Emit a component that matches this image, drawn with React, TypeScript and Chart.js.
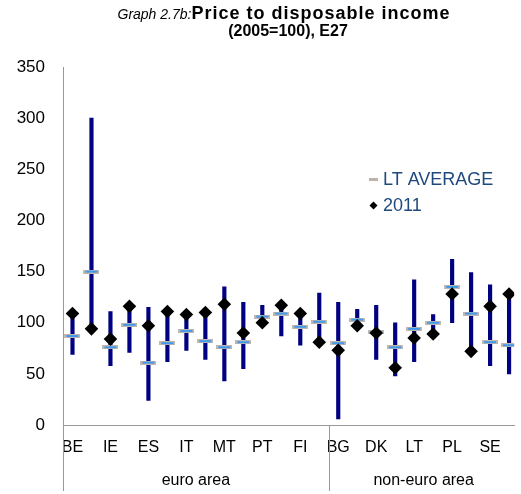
import React, { useEffect, useRef } from 'react';
import { Chart, registerables } from 'chart.js';
Chart.register(...registerables);

const categories = ['BE', 'DE', 'IE', 'EL', 'ES', 'FR', 'IT', 'CY', 'MT', 'NL', 'PT', 'SI', 'FI', 'EA',
  'BG', 'CZ', 'DK', 'LV', 'LT', 'HU', 'PL', 'RO', 'SE', 'UK'];
const groupLabels = ['euro area', 'non-euro area'];
const groupSizes = [14, 10];
const rangeMin = [69, 93, 58, 71, 24, 62, 73, 64, 43, 55, 97, 87, 78, 81, 6, 96, 64, 48, 62, 88, 100, 72, 58, 50];
const rangeMax = [109, 300, 111, 115, 115, 110, 108, 110, 135, 120, 117, 116, 109, 129, 120, 113, 117, 100, 142, 108, 162, 149, 137, 128];
const ltAverage = [87, 150, 76, 98, 61, 80, 92, 82, 76, 81, 106, 109, 96, 101, 80, 103, 91, 76, 94, 100, 135, 109, 81, 78];
const value2011 = [109, 94, 84, 116, 97, 111, 108, 110, 118, 90, 100, 117, 109, 81, 73, 97, 90, 56, 85, 89, 128, 72, 116, 128];
const yTickValues = [0, 50, 100, 150, 200, 250, 300, 350];

const FONT = "'Liberation Sans', Arial, Helvetica, sans-serif";
const TITLE_ITALIC = 'Graph 2.7b:';
const TITLE_BOLD = 'Price to disposable income';
const TITLE_LINE2 = '(2005=100), E27';
const LEGEND_AVG = 'LT AVERAGE';
const LEGEND_2011 = '2011';

function makeDash(): HTMLCanvasElement {
  const c = document.createElement('canvas');
  c.width = 16;
  c.height = 4;
  const g = c.getContext('2d')!;
  g.fillStyle = '#C2B6AE';
  g.fillRect(0, 0, 16, 4);
  g.fillStyle = '#3E9BEB';
  g.fillRect(2, 1, 12, 2);
  return c;
}

const decorPlugin = {
  id: 'decor',
  afterDraw(chart: any) {
    const ctx = chart.ctx as CanvasRenderingContext2D;
    const x = chart.scales.x;
    const area = chart.chartArea;
    ctx.save();
    // title
    ctx.fillStyle = '#000';
    ctx.textBaseline = 'alphabetic';
    ctx.textAlign = 'left';
    ctx.font = `italic 14px ${FONT}`;
    const w1 = ctx.measureText(TITLE_ITALIC).width;
    ctx.font = `bold 18px ${FONT}`;
    (ctx as any).letterSpacing = '1px';
    const w2 = ctx.measureText(TITLE_BOLD).width;
    const cx = 284;
    const sx = cx - (w1 + w2) / 2;
    (ctx as any).letterSpacing = '0px';
    ctx.font = `italic 14px ${FONT}`;
    ctx.fillText(TITLE_ITALIC, sx, 19);
    ctx.font = `bold 18px ${FONT}`;
    (ctx as any).letterSpacing = '1px';
    ctx.fillText(TITLE_BOLD, sx + w1, 19);
    (ctx as any).letterSpacing = '0px';
    ctx.font = `bold 16px ${FONT}`;
    ctx.textAlign = 'center';
    ctx.fillText(TITLE_LINE2, 288, 36);

    // group separators and labels
    ctx.strokeStyle = '#999';
    ctx.lineWidth = 1;
    ctx.fillStyle = '#000';
    ctx.font = `16px ${FONT}`;
    ctx.textBaseline = 'middle';
    let start = 0;
    groupSizes.forEach((n, gi) => {
      const a = x.getPixelForValue(start - 0.5);
      const b = x.getPixelForValue(start + n - 0.5);
      const px = Math.round(a) + 0.5;
      ctx.beginPath();
      ctx.moveTo(px, area.bottom);
      ctx.lineTo(px, area.bottom + 66);
      ctx.stroke();
      ctx.textAlign = 'center';
      ctx.fillText(groupLabels[gi], (a + b) / 2, area.bottom + 56);
      start += n;
    });

    // legend
    const lx = 369;
    ctx.fillStyle = '#BDB3AB';
    ctx.fillRect(lx, 178, 9, 3);
    ctx.fillStyle = '#000';
    ctx.beginPath();
    ctx.moveTo(lx + 0.5, 205.5);
    ctx.lineTo(lx + 4.5, 201.5);
    ctx.lineTo(lx + 8.5, 205.5);
    ctx.lineTo(lx + 4.5, 209.5);
    ctx.closePath();
    ctx.fill();
    ctx.fillStyle = '#1F497D';
    ctx.font = `18px ${FONT}`;
    ctx.textAlign = 'left';
    ctx.textBaseline = 'alphabetic';
    ctx.fillText(LEGEND_AVG, lx + 14, 185);
    ctx.fillText(LEGEND_2011, lx + 14, 211);
    ctx.restore();
  },
};

export default function App() {
  const ref = useRef<HTMLCanvasElement | null>(null);
  useEffect(() => {
    document.body.style.margin = '0';
    const dash = makeDash();
    const chart = new Chart(ref.current!, {
      type: 'bar',
      data: {
        datasets: [
          {
            type: 'line',
            label: LEGEND_2011,
            data: categories.map((_, i) => ({ x: i, y: value2011[i] })),
            showLine: false,
            pointStyle: 'rectRot',
            pointRadius: 6.8,
            pointBorderWidth: 0,
            backgroundColor: '#000',
            borderColor: '#000',
            order: 0,
          } as any,
          {
            type: 'line',
            label: LEGEND_AVG,
            data: categories.map((_, i) => ({ x: i, y: ltAverage[i] })),
            showLine: false,
            pointStyle: dash,
            order: 1,
          } as any,
          {
            type: 'bar',
            label: 'range',
            data: categories.map((_, i) => ({ x: i, y: [rangeMin[i], rangeMax[i]] })),
            backgroundColor: '#000080',
            barThickness: 3.5,
            order: 2,
          } as any,
        ],
      },
      options: {
        animation: false,
        responsive: false,
        layout: { padding: { top: 67, left: 0, right: 0, bottom: 0 } },
        scales: {
          x: {
            type: 'linear',
            offset: false,
            min: -0.5,
            max: 23.27,
            grid: { display: false, drawTicks: false, offset: false },
            border: { display: true, color: '#999', width: 1 },
            afterBuildTicks: (scale: any) => {
              scale.ticks = categories
                .map((_, i) => ({ value: i }))
                .filter((t) => t.value % 2 === 0);
            },
            afterFit: (scale: any) => {
              scale.height = 69;
              scale.paddingLeft = 0;
              scale.paddingRight = 0;
            },
            ticks: {
              autoSkip: false,
              maxRotation: 0,
              minRotation: 0,
              padding: 13,
              color: '#000',
              font: { family: FONT, size: 16 },
              callback: (v: any) => categories[v as number] ?? '',
            },
          },
          y: {
            min: 0,
            max: 350,
            grid: { display: false, drawTicks: false },
            border: { display: true, color: '#999', width: 1 },
            afterBuildTicks: (scale: any) => {
              scale.ticks = yTickValues.map((v) => ({ value: v }));
            },
            afterFit: (scale: any) => {
              scale.width = 63;
            },
            ticks: {
              padding: 18,
              color: '#000',
              font: { family: FONT, size: 17 },
            },
          },
        },
        plugins: {
          legend: { display: false },
          tooltip: { enabled: false },
          title: { display: false },
        },
      },
      plugins: [decorPlugin],
    } as any);
    return () => chart.destroy();
  }, []);
  return (
    <div style={{ width: 521, height: 494 }}>
      <canvas ref={ref} width={521} height={494} style={{ display: 'block' }} />
    </div>
  );
}
